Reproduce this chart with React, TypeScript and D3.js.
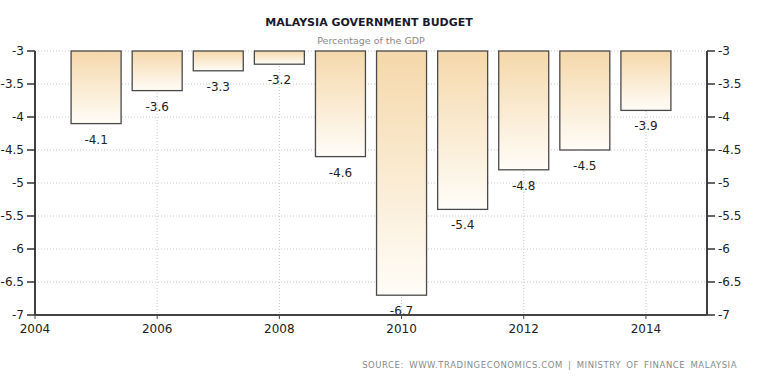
import * as d3 from "d3";

const years = [2005, 2006, 2007, 2008, 2009, 2010, 2011, 2012, 2013, 2014];
const budget = [-4.1, -3.6, -3.3, -3.2, -4.6, -6.7, -5.4, -4.8, -4.5, -3.9];
const yTicks = [-3, -3.5, -4, -4.5, -5, -5.5, -6, -6.5, -7];
const xTicks = [2004, 2006, 2008, 2010, 2012, 2014];

const width = 757;
const height = 390;
const margin = { top: 51, right: 50, bottom: 75, left: 35 };

const fuente = "'DejaVu Sans', Tahoma, sans-serif";

export default function App() {
  const x = d3
    .scaleLinear()
    .domain([2004, 2015])
    .range([margin.left, width - margin.right]);
  const y = d3
    .scaleLinear()
    .domain([-3, -7])
    .range([margin.top, height - margin.bottom]);

  const anchoBarra = 50;
  const izq = x.range()[0];
  const der = x.range()[1];
  const arriba = y.range()[0];
  const abajo = y.range()[1];

  return (
    <svg
      width={width}
      height={height}
      style={{ position: "absolute", left: 0, top: 0, background: "#fff" }}
      fontFamily={fuente}
    >
      <defs>
        <linearGradient id="degradado" x1="0" y1="0" x2="0" y2="1">
          <stop offset="0%" stopColor="#f5d8aa" />
          <stop offset="100%" stopColor="#fffdf8" />
        </linearGradient>
      </defs>

      {/* títulos */}
      <text x={369} y={26} textAnchor="middle" fontSize={11} fontWeight="bold" fill="#1a1a2e">
        MALAYSIA GOVERNMENT BUDGET
      </text>
      <text x={371} y={44} textAnchor="middle" fontSize={9.5} fill="#8a8a8a">
        Percentage of the GDP
      </text>

      {/* rejilla */}
      {yTicks.map((t) => (
        <line
          key={"gy" + t}
          x1={izq}
          x2={der}
          y1={y(t)}
          y2={y(t)}
          stroke="#c8c8c8"
          strokeDasharray="1,2"
        />
      ))}
      {xTicks.slice(1).map((t) => (
        <line
          key={"gx" + t}
          x1={x(t)}
          x2={x(t)}
          y1={arriba}
          y2={abajo}
          stroke="#c8c8c8"
          strokeDasharray="1,2"
        />
      ))}

      {/* barras */}
      {years.map((yr, i) => (
        <g key={yr}>
          <rect
            x={x(yr) - anchoBarra / 2}
            y={y(-3)}
            width={anchoBarra}
            height={y(budget[i]) - y(-3)}
            fill="url(#degradado)"
            stroke="#4a4a4a"
            strokeWidth={1.3}
          />
          <text
            x={x(yr)}
            y={y(budget[i]) + 20}
            textAnchor="middle"
            fontSize={12}
            fill="#222"
          >
            {budget[i].toFixed(1)}
          </text>
        </g>
      ))}

      {/* ejes */}
      <line x1={izq} x2={izq} y1={arriba} y2={abajo} stroke="#000" strokeWidth={1.5} />
      <line x1={der} x2={der} y1={arriba} y2={abajo} stroke="#000" strokeWidth={1.5} />
      <line x1={izq} x2={der} y1={abajo} y2={abajo} stroke="#444" strokeWidth={2} />
      {yTicks.map((t) => (
        <g key={"ty" + t}>
          <line x1={izq - 8} x2={izq} y1={y(t)} y2={y(t)} stroke="#333" strokeWidth={1.5} />
          <text x={izq - 11} y={y(t) + 4} textAnchor="end" fontSize={12} fill="#222">
            {String(t)}
          </text>
          <line x1={der} x2={der + 8} y1={y(t)} y2={y(t)} stroke="#333" strokeWidth={1.5} />
          <text x={der + 11} y={y(t) + 4} textAnchor="start" fontSize={12} fill="#222">
            {String(t)}
          </text>
        </g>
      ))}
      {xTicks.map((t) => (
        <g key={"tx" + t}>
          <line x1={x(t)} x2={x(t)} y1={abajo} y2={abajo + 4} stroke="#444" strokeWidth={1} />
          <text x={x(t)} y={abajo + 18} textAnchor="middle" fontSize={12} fill="#222">
            {t}
          </text>
        </g>
      ))}

      <text x={737} y={368} textAnchor="end" fontSize={8.5} fill="#8a8a8a" letterSpacing={0.55} wordSpacing={2}>
        SOURCE: WWW.TRADINGECONOMICS.COM | MINISTRY OF FINANCE MALAYSIA
      </text>
    </svg>
  );
}
